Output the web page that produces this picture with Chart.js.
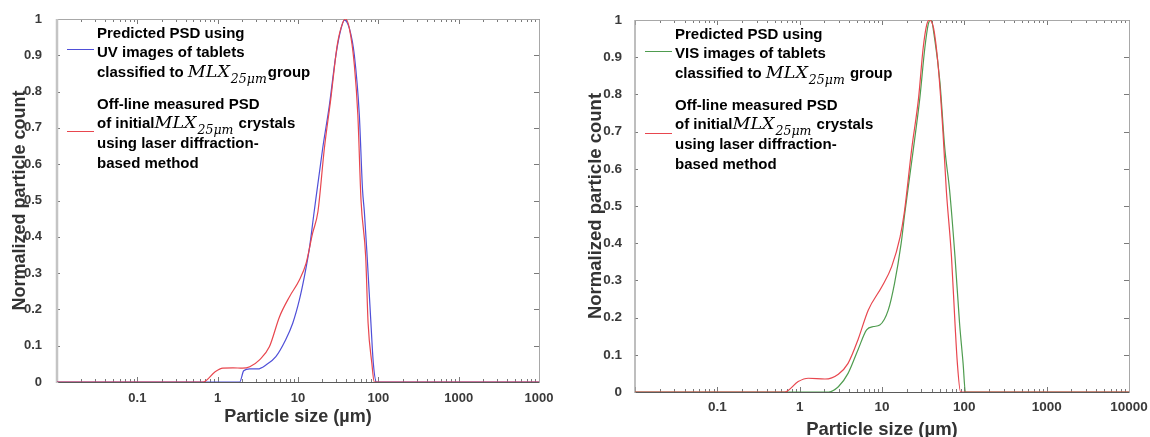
<!DOCTYPE html>
<html>
<head>
<meta charset="utf-8">
<script src="https://cdn.jsdelivr.net/npm/chart.js@4.4.0/dist/chart.umd.min.js"></script>
<style>
  html, body { margin: 0; padding: 0; background: #fff; }
  #wrap { position: relative; width: 1150px; height: 437px; overflow: hidden; }
  .box { position: absolute; top: 0; width: 575px; height: 437px; }
</style>
</head>
<body>
<div id="wrap">
  <div class="box" style="left:0"><canvas id="uvChart" width="575" height="437"></canvas></div>
  <div class="box" style="left:575px"><canvas id="visChart" width="575" height="437"></canvas></div>
</div>
<script>
// axis ticks
const xTickValues = [0.01, 0.1, 1, 10, 100, 1000, 10000];
const xTickLabelsUV = ['', '0.1', '1', '10', '100', '1000', '1000'];
const xTickLabelsVIS = ['', '0.1', '1', '10', '100', '1000', '10000'];
const xMinorMultiples = [2, 3, 4, 5, 6, 7, 8, 9];
const yTickValues = [0, 0.1, 0.2, 0.3, 0.4, 0.5, 0.6, 0.7, 0.8, 0.9, 1];
const yTickLabels = ['0', '0.1', '0.2', '0.3', '0.4', '0.5', '0.6', '0.7', '0.8', '0.9', '1'];

// left panel: UV prediction vs laser diffraction
const sizeUV = [0.01, 1.88, 2.11, 2.51, 3.16, 4.0, 5.3, 7.0, 8.6, 10.4, 12.0, 13.9, 15.7, 20.3, 24.6, 29.6, 34.4, 37.8, 43.6, 50.3, 58, 63.6, 67, 72.6, 80.9, 86.6, 95, 10000];
const countUV = [0, 0, 0.031, 0.036, 0.036, 0.047, 0.07, 0.116, 0.162, 0.226, 0.29, 0.37, 0.46, 0.644, 0.763, 0.90, 0.974, 0.997, 0.974, 0.90, 0.735, 0.529, 0.469, 0.345, 0.162, 0.052, 0, 0];
const sizeLaserA = [0.01, 0.66, 0.93, 1.16, 1.55, 2.04, 2.51, 3.32, 4.4, 5.89, 7.84, 10.4, 12.6, 15.2, 17.7, 21.3, 25.6, 30.9, 35.8, 39, 43.6, 50.3, 55.6, 60.9, 69.6, 74.6, 83, 89, 10000];
const countLaserA = [0, 0, 0.028, 0.038, 0.039, 0.038, 0.042, 0.061, 0.097, 0.18, 0.235, 0.281, 0.327, 0.41, 0.469, 0.644, 0.78, 0.93, 0.988, 1, 0.974, 0.873, 0.735, 0.50, 0.345, 0.162, 0.052, 0, 0];

// right panel: VIS prediction vs laser diffraction
const sizeVIS = [0.01, 2.25, 2.95, 3.87, 5.1, 6.5, 7.9, 9.4, 11.9, 14.2, 17.1, 18.9, 24.1, 28.8, 33.1, 36.6, 39.4, 43.6, 50.5, 57.9, 66.2, 77, 87.5, 96.6, 103, 10000];
const countVIS = [0, 0, 0.014, 0.05, 0.113, 0.167, 0.176, 0.18, 0.22, 0.292, 0.40, 0.48, 0.655, 0.79, 0.924, 0.99, 1, 0.95, 0.834, 0.655, 0.543, 0.364, 0.185, 0.077, 0, 0];
const sizeLaserB = [0.01, 0.66, 0.96, 1.27, 2.03, 2.95, 3.87, 5.1, 6.8, 9.95, 13.1, 16.6, 18.6, 23.0, 27.8, 31.6, 34.9, 37.6, 42.3, 48.0, 55, 60.4, 69.8, 77, 82.3, 90, 10000];
const countLaserB = [0, 0, 0.028, 0.037, 0.035, 0.048, 0.077, 0.14, 0.22, 0.283, 0.337, 0.417, 0.48, 0.655, 0.79, 0.924, 0.987, 1, 0.978, 0.879, 0.70, 0.543, 0.364, 0.185, 0.077, 0, 0];

// legend text, '@MLX' stands for the MLX_25um symbol
const uvLegend = [
  ['Predicted PSD using'],
  ['UV images of tablets'],
  ['classified to ', '@MLX', 'group']
];
const visLegend = [
  ['Predicted PSD using'],
  ['VIS images of tablets'],
  ['classified to ', '@MLX', ' group']
];
const laserLegend = [
  ['Off-line measured PSD'],
  ['of initial', '@MLX', ' crystals'],
  ['using laser diffraction-'],
  ['based method']
];

const BLUE = '#4f4fd8';
const RED = '#e8464e';
const GREEN = '#4f9c4f';
const SANS = '"Liberation Sans", Arial, sans-serif';

function toPoints(xs, ys) {
  return xs.map((x, i) => ({ x: x, y: ys[i] }));
}

// box, inward ticks on all four sides
const framePlugin = {
  id: 'frame',
  beforeDatasetsDraw(chart, args, opts) {
    const { ctx, chartArea: a, scales: { x, y } } = chart;
    ctx.save();
    ctx.lineWidth = 1;
    ctx.strokeStyle = '#7a7a7a';
    ctx.beginPath();
    xTickValues.forEach((v, i) => {
      const mults = i < xTickValues.length - 1 ? [1].concat(xMinorMultiples) : [1];
      mults.forEach(m => {
        const px = Math.round(x.getPixelForValue(v * m)) + 0.5;
        const len = m === 1 ? 5 : 3;
        ctx.moveTo(px, a.bottom); ctx.lineTo(px, a.bottom - len);
        ctx.moveTo(px, a.top); ctx.lineTo(px, a.top + len);
      });
    });
    yTickValues.forEach(v => {
      const py = Math.round(y.getPixelForValue(v)) + 0.5;
      ctx.moveTo(a.right, py); ctx.lineTo(a.right - 5, py);
      ctx.moveTo(a.left, py); ctx.lineTo(a.left + 3, py);
    });
    ctx.stroke();

    ctx.strokeStyle = '#a8a8a8';
    ctx.beginPath();
    ctx.moveTo(a.left, a.top + 0.5); ctx.lineTo(a.right + 0.5, a.top + 0.5);
    ctx.lineTo(a.right + 0.5, a.bottom);
    ctx.stroke();

    ctx.strokeStyle = '#5a5a5a';
    ctx.beginPath();
    ctx.moveTo(a.left, a.bottom + 0.5); ctx.lineTo(a.right + 0.5, a.bottom + 0.5);
    ctx.stroke();

    ctx.strokeStyle = opts.leftColor;
    ctx.lineWidth = opts.leftWidth;
    ctx.beginPath();
    ctx.moveTo(a.left, a.top); ctx.lineTo(a.left, a.bottom + 1);
    ctx.stroke();
    ctx.restore();
  }
};

// in-plot legend with wrapped text and the math symbol
const legendPlugin = {
  id: 'psdLegend',
  afterDraw(chart, args, opts) {
    const { ctx, chartArea: a } = chart;
    ctx.save();
    opts.entries.forEach(entry => {
      const sy = a.top + entry.sampleY + 0.5;
      ctx.strokeStyle = entry.color;
      ctx.lineWidth = 1;
      ctx.beginPath();
      ctx.moveTo(a.left + opts.sampleX0, sy);
      ctx.lineTo(a.left + opts.sampleX1, sy);
      ctx.stroke();
      entry.lines.forEach((line, li) => {
        let cx = a.left + opts.textX;
        const base = a.top + entry.firstY + li * opts.lineGap + 5.5;
        ctx.fillStyle = '#000';
        ctx.textBaseline = 'alphabetic';
        line.forEach(seg => {
          if (seg === '@MLX') {
            ctx.font = 'italic 17.5px "DejaVu Serif", serif';
            ctx.fillText('MLX', cx, base);
            cx += ctx.measureText('MLX').width + 1;
            ctx.font = 'italic 12.5px "DejaVu Serif", serif';
            ctx.fillText('25μm', cx, base + 6);
            cx += ctx.measureText('25μm').width + 1;
          } else {
            ctx.font = 'bold 15px ' + SANS;
            ctx.fillText(seg, cx, base);
            cx += ctx.measureText(seg).width;
          }
        });
      });
    });
    ctx.restore();
  }
};

function makeChart(id, cfg) {
  return new Chart(document.getElementById(id), {
    type: 'scatter',
    data: {
      datasets: cfg.series.map(s => ({
        label: s.label,
        data: toPoints(s.x, s.y),
        showLine: true,
        borderColor: s.color,
        borderWidth: 1.2,
        pointRadius: 0,
        cubicInterpolationMode: 'monotone',
        fill: false
      }))
    },
    options: {
      responsive: false,
      animation: false,
      layout: { padding: cfg.padding },
      plugins: {
        legend: { display: false },
        tooltip: { enabled: false },
        frame: { leftColor: cfg.leftColor, leftWidth: cfg.leftWidth },
        psdLegend: {
          sampleX0: 10, sampleX1: 37, textX: 40, lineGap: 19.7,
          entries: cfg.legend
        }
      },
      scales: {
        x: {
          type: 'logarithmic',
          min: 0.01,
          max: 10000,
          grid: { display: false },
          border: { display: false },
          afterBuildTicks: s => { s.ticks = xTickValues.map(v => ({ value: v })); },
          afterFit: s => { s.height = cfg.xAxisHeight; },
          ticks: {
            autoSkip: false, maxRotation: 0, padding: cfg.xTickPad,
            color: '#3a3a3a',
            font: { family: SANS, weight: 'bold', size: cfg.tickSize },
            callback: (v, i) => cfg.xLabels[i]
          },
          title: {
            display: true, text: 'Particle size (µm)', color: '#333',
            font: { family: SANS, weight: 'bold', size: cfg.titleSize, lineHeight: 1 },
            padding: { top: 0, bottom: cfg.xTitlePad }
          }
        },
        y: {
          min: 0,
          max: 1,
          grid: { display: false },
          border: { display: false },
          afterBuildTicks: s => { s.ticks = yTickValues.map(v => ({ value: v })); },
          afterFit: s => { s.width = cfg.yAxisWidth; },
          ticks: {
            padding: cfg.yTickPad,
            color: '#3a3a3a',
            font: { family: SANS, weight: 'bold', size: cfg.tickSize },
            callback: (v, i) => yTickLabels[i]
          },
          title: {
            display: true, text: 'Normalized particle count', color: '#333',
            font: { family: SANS, weight: 'bold', size: cfg.titleSize, lineHeight: 1 },
            padding: { top: cfg.yTitlePad, bottom: 0 }
          }
        }
      }
    },
    plugins: [framePlugin, legendPlugin]
  });
}

makeChart('uvChart', {
  series: [
    { label: 'Off-line measured PSD', x: sizeLaserA, y: countLaserA, color: RED },
    { label: 'Predicted PSD (UV)', x: sizeUV, y: countUV, color: BLUE }
  ],
  legend: [
    { color: BLUE, sampleY: 30, firstY: 13, lines: uvLegend },
    { color: RED, sampleY: 112, firstY: 84, lines: laserLegend }
  ],
  xLabels: xTickLabelsUV,
  padding: { left: 0, top: 19, right: 36, bottom: 0 },
  xAxisHeight: 55, yAxisWidth: 57,
  tickSize: 13, titleSize: 18,
  xTickPad: 1, xTitlePad: 11, yTitlePad: 11, yTickPad: 7,
  leftColor: '#c4c4c4', leftWidth: 2.5
});

makeChart('visChart', {
  series: [
    { label: 'Off-line measured PSD', x: sizeLaserB, y: countLaserB, color: RED },
    { label: 'Predicted PSD (VIS)', x: sizeVIS, y: countVIS, color: GREEN }
  ],
  legend: [
    { color: GREEN, sampleY: 31, firstY: 13, lines: visLegend },
    { color: RED, sampleY: 113, firstY: 84, lines: laserLegend }
  ],
  xLabels: xTickLabelsVIS,
  padding: { left: 0, top: 20, right: 21, bottom: 0 },
  xAxisHeight: 45, yAxisWidth: 60,
  tickSize: 13.5, titleSize: 18.5,
  xTickPad: -1, xTitlePad: -2, yTitlePad: 12, yTickPad: 5,
  leftColor: '#a8a8a8', leftWidth: 1.5
});
</script>
</body>
</html>
